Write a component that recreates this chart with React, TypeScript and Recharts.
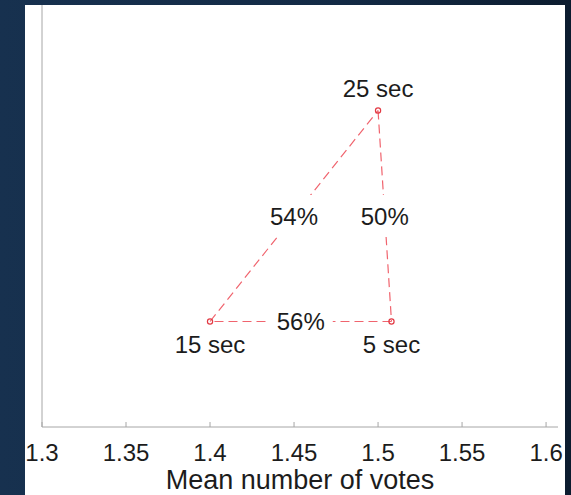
import React from "react";
import { ScatterChart, Scatter, XAxis, YAxis, Label } from "recharts";

// Response windows, their mean vote count and (unlabelled) vertical value
const durations = ["15 sec", "25 sec", "5 sec"];
const meanVotes = [1.4, 1.5, 1.508];
const yValues = [0.25, 0.75, 0.25];

// Triangle edges between windows, with the percentage shown on each
const edgeFrom = [0, 1, 2];
const edgeTo = [1, 2, 0];
const edgeLabels = ["54%", "50%", "56%"];

const xTicks = [1.3, 1.35, 1.4, 1.45, 1.5, 1.55, 1.6];

const FONT = '"Liberation Sans", Arial, Helvetica, sans-serif';
const LINE_RED = "#f0646e";
const MARK_RED = "#e23a44";
const AXIS_GREY = "#a6a6a6";

const points = durations.map((name, i) => ({ x: meanVotes[i], y: yValues[i], name }));

const edges = edgeFrom.map((from, i) => [points[from], points[edgeTo[i]]]);

const midpoints = edgeFrom.map((from, i) => ({
    x: (points[from].x + points[edgeTo[i]].x) / 2,
    y: (points[from].y + points[edgeTo[i]].y) / 2,
    label: edgeLabels[i],
}));

const topY = Math.max(...yValues);

const NoShape = () => <g />;

const EdgeLabel = (props: any) => {
    const { cx, cy, payload } = props;
    return (
        <g>
            <rect x={cx - 32} y={cy - 21} width={64} height={42} fill="#ffffff" />
            <text x={cx} y={cy + 8.5} textAnchor="middle" fontSize={24} fontFamily={FONT} fill="#1c1c1c">
                {payload.label}
            </text>
        </g>
    );
};

const PointMark = (props: any) => {
    const { cx, cy, payload } = props;
    const above = payload.y >= topY;
    return (
        <g>
            <circle cx={cx} cy={cy} r={2.6} fill="none" stroke={MARK_RED} strokeWidth={1.2} />
            <text
                x={cx}
                y={above ? cy - 14 : cy + 31.5}
                textAnchor="middle"
                fontSize={24}
                fontFamily={FONT}
                fill="#1c1c1c"
            >
                {payload.name}
            </text>
        </g>
    );
};

export default function App() {
    return (
        <div
            style={{
                position: "absolute",
                left: 0,
                top: 0,
                width: 571,
                height: 495,
                overflow: "hidden",
                background: "linear-gradient(90deg, #17314f 0%, #132a45 60%, #0c1c2f 100%)",
            }}
        >
            <div style={{ position: "absolute", left: 25, top: 5, width: 540, height: 490, background: "#ffffff" }} />
            <div style={{ position: "absolute", left: 0, top: 0 }}>
                <ScatterChart width={571} height={495} margin={{ top: 5, right: 13, bottom: 0, left: 41 }}>
                    <XAxis
                        type="number"
                        dataKey="x"
                        domain={[1.3, 1.6071]}
                        ticks={xTicks}
                        allowDataOverflow
                        height={68}
                        stroke={AXIS_GREY}
                        tickSize={-5}
                        tickMargin={22}
                        tick={{ fontSize: 24, fontFamily: FONT, fill: "#1c1c1c" }}
                    >
                        <Label
                            value="Mean number of votes"
                            position="insideBottom"
                            offset={6}
                            style={{ fontSize: 27, fontFamily: FONT, fill: "#1c1c1c" }}
                        />
                    </XAxis>
                    <YAxis
                        type="number"
                        dataKey="y"
                        domain={[0, 1]}
                        width={1}
                        tick={false}
                        tickLine={false}
                        stroke={AXIS_GREY}
                    />
                    {edges.map((pair, i) => (
                        <Scatter
                            key={`edge-${i}`}
                            data={pair}
                            line={{ stroke: LINE_RED, strokeWidth: 1.2, strokeDasharray: "9 5" }}
                            shape={NoShape}
                            isAnimationActive={false}
                        />
                    ))}
                    <Scatter data={midpoints} shape={EdgeLabel} isAnimationActive={false} />
                    <Scatter data={points} shape={PointMark} isAnimationActive={false} />
                </ScatterChart>
            </div>
        </div>
    );
}
